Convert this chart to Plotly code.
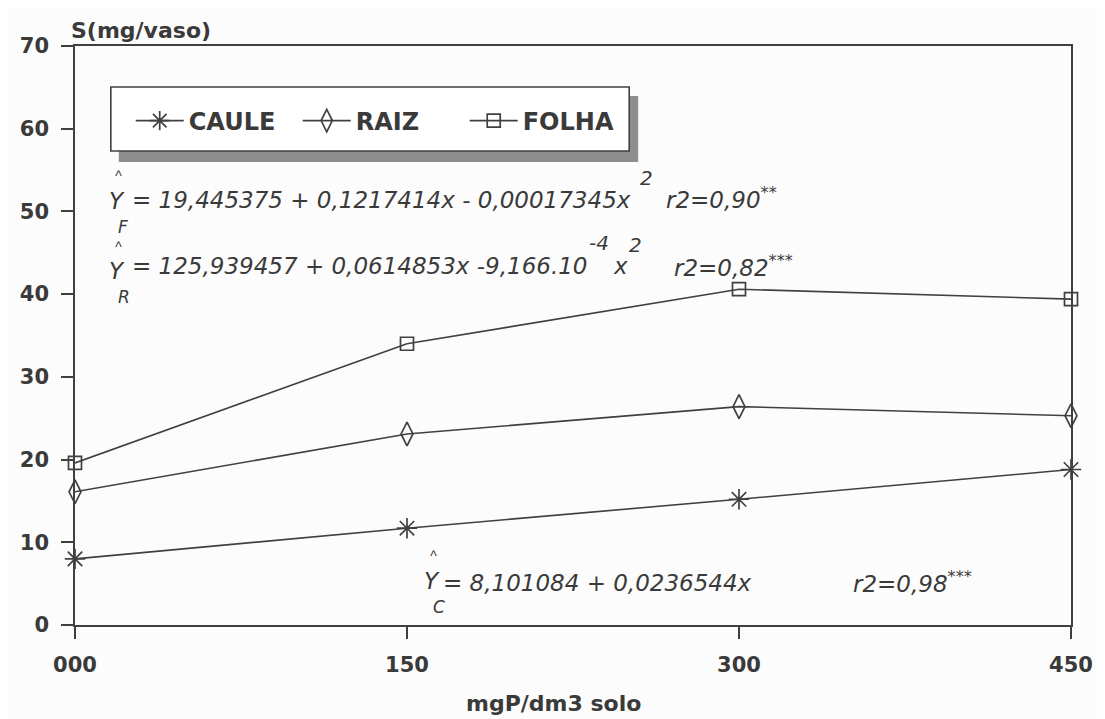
import plotly.graph_objects as go

# ---- data ----
doses = [0, 150, 300, 450]
dose_labels = ["000", "150", "300", "450"]
caule = [8.0, 11.7, 15.2, 18.8]
raiz = [16.1, 23.1, 26.4, 25.3]
folha = [19.6, 34.0, 40.6, 39.4]
y_ticks = [0, 10, 20, 30, 40, 50, 60, 70]
series_names = ["CAULE", "RAIZ", "FOLHA"]

# ---- layout helpers ----
# the page body has an 8px margin, so the figure is drawn 8px smaller
PAGE_W, PAGE_H, OFF = 1105, 719, 8
W, H = PAGE_W - OFF, PAGE_H - OFF
# plot area in page pixels
L, R, T, B = 72, 1073, 46, 625


def px(x):
    return (x - L) / (R - L)


def py(y):
    return (B - y) / (B - T)


INK = "#3a3a3a"
LINE = "#404040"
BG = "#fcfcfc"

fig = go.Figure()
symbols = ["asterisk-open", "diamond-tall-open", "square-open"]
sizes = [17, 17, 13]
for name, vals, sym, sz in zip(series_names, [caule, raiz, folha], symbols, sizes):
    fig.add_trace(go.Scatter(
        x=doses, y=vals, name=name, mode="lines+markers",
        line=dict(color=LINE, width=1.6),
        marker=dict(symbol=sym, size=sz, color=LINE, line=dict(color=LINE, width=1.7)),
        cliponaxis=False,
    ))

axis_common = dict(
    showline=True, linecolor=LINE, linewidth=1.6, mirror=True,
    ticks="outside", ticklen=12, tickwidth=1.6, tickcolor=LINE,
    showgrid=False, zeroline=False,
    tickfont=dict(family="DejaVu Sans", size=21, color=INK, weight="bold"),
)

fig.update_layout(
    width=W, height=H,
    margin=dict(l=L - OFF, r=W - (R - OFF), t=T - OFF, b=H - (B - OFF)),
    paper_bgcolor=BG, plot_bgcolor=BG,
    xaxis=dict(range=[0, 450], tickvals=doses, ticktext=dose_labels,
               ticklabelstandoff=8, **axis_common),
    yaxis=dict(range=[0, 70], tickvals=y_ticks, ticklabelstandoff=8, **axis_common),
    showlegend=True,
    legend=dict(
        orientation="h", x=px(128), y=py(121), xanchor="left", yanchor="middle",
        bgcolor="rgba(0,0,0,0)", borderwidth=0,
        font=dict(family="DejaVu Sans", size=24, color=INK, weight="bold"),
        itemwidth=48,
        entrywidth=104, entrywidthmode="pixels", traceorder="normal",
    ),
)

# legend box with shadow
fig.add_shape(type="rect", xref="paper", yref="paper",
              x0=px(116), x1=px(638), y0=py(162), y1=py(96),
              fillcolor="#8e8e8e", line=dict(width=0), layer="below")
fig.add_shape(type="rect", xref="paper", yref="paper",
              x0=px(108), x1=px(629), y0=py(151), y1=py(87),
              fillcolor="white", line=dict(color=LINE, width=1.6), layer="below")

# titles
title_font = dict(family="DejaVu Sans", size=22, color=INK, weight="bold")
fig.add_annotation(text="S(mg/vaso)", xref="paper", yref="paper",
                   x=px(66), y=py(31), xanchor="left", yanchor="middle",
                   showarrow=False, font=title_font)
fig.add_annotation(text="mgP/dm3 solo", xref="paper", yref="paper",
                   x=px(553), y=py(703), xanchor="center", yanchor="middle",
                   showarrow=False, font=title_font)

# regression equations
eq_font = dict(family="DejaVu Sans", size=23, color=INK, style="italic")
sup_font = dict(family="DejaVu Sans", size=20, color=INK, style="italic")
sub_font = dict(family="DejaVu Sans", size=17, color=INK, style="italic")
hat_font = dict(family="Liberation Sans", size=14, color=INK, style="italic")


def note(text, x, y, font=eq_font, xanchor="left"):
    fig.add_annotation(text=text, xref="paper", yref="paper", x=px(x), y=py(y),
                       xanchor=xanchor, yanchor="middle", showarrow=False, font=font)


# Y-hat F
note("^", 110, 176, hat_font)
note("Y", 104, 201)
note("F", 113, 227, sub_font)
note("= 19,445375 + 0,1217414x - 0,00017345x", 127, 200)
note("2", 638, 178, sup_font)
note("r2=0,90<sup>**</sup>", 664, 198)

# Y-hat R
note("^", 110, 247, hat_font)
note("Y", 104, 271)
note("R", 113, 297, sub_font)
note("= 125,939457 + 0,0614853x -9,166.10", 127, 266)
note("-4", 587, 243, sup_font)
note("x", 611, 266)
note("2", 627, 245, sup_font)
note("r2=0,82<sup>***</sup>", 672, 266)

# Y-hat C
note("^", 427, 556, hat_font)
note("Y", 421, 581)
note("C", 430, 607, sub_font)
note("= 8,101084 + 0,0236544x", 440, 583)
note("r2=0,98<sup>***</sup>", 852, 582)

fig.write_html("out.html")
